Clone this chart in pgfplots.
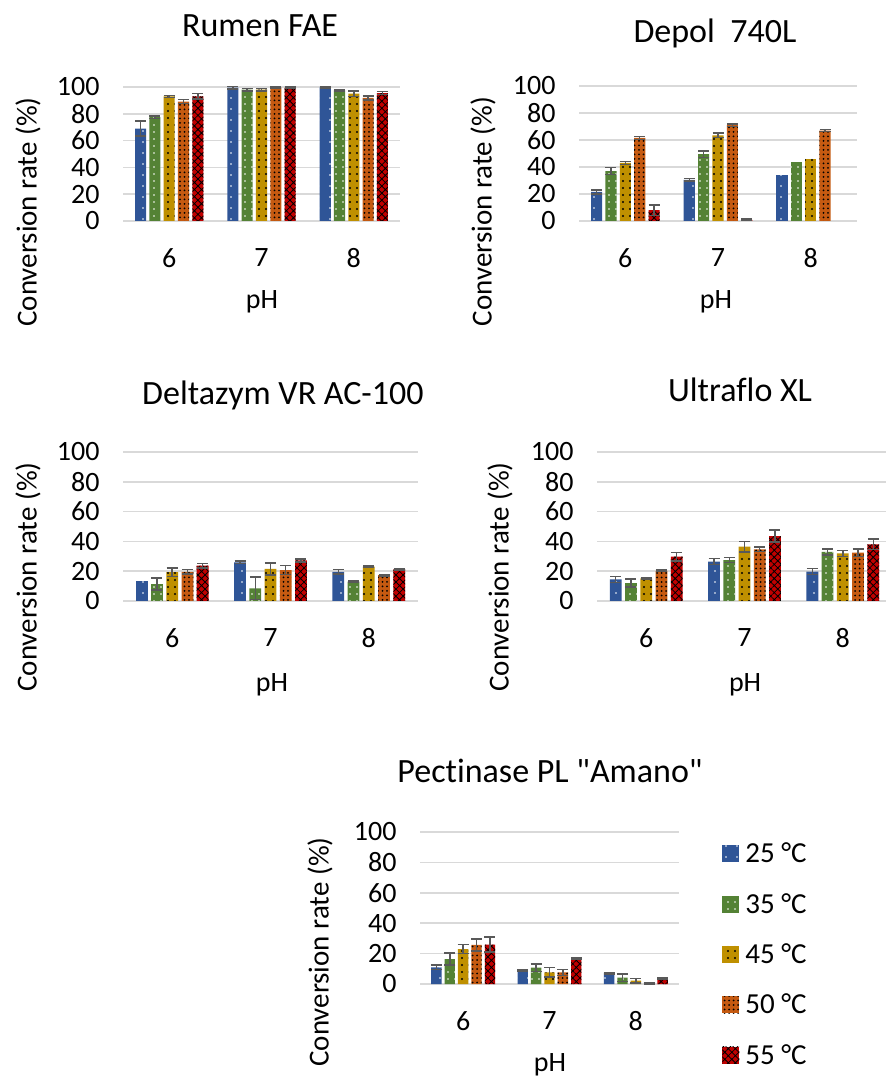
\documentclass[border=0pt]{standalone}
\usepackage{fontspec}
\setmainfont{Carlito}[Ligatures={TeXOff,NoCommon}]
\usepackage{pgfplots}
\pgfplotsset{compat=1.18}
\usetikzlibrary{patterns.meta}

\definecolor{c25}{HTML}{2F5597}
\definecolor{c35}{HTML}{548235}
\definecolor{c45}{HTML}{BF9000}
\definecolor{c50}{HTML}{C55A11}
\definecolor{c55}{HTML}{C00000}
\definecolor{gridc}{HTML}{D9D9D9}
\definecolor{errc}{HTML}{595959}

\pgfplotsset{
  panel/.style={
    scale only axis, anchor=south west, ybar,
    ymin=0, ymax=100, xmin=0.5, xmax=3.5,
    enlarge x limits=false, enlarge y limits=false,
    ytick={0,20,...,100}, xtick={1,2,3}, xticklabels={6,7,8},
    axis line style={draw=none}, tick style={draw=none},
    ymajorgrids, major grid style={gridc, line width=1.5pt},
    bar width=0.12, clip=false,
    font=\fontsize{28}{34}\selectfont,
    /pgf/number format/assume math mode=true,
    yticklabel style={xshift=-20pt},
    xticklabel style={yshift=-20pt},
    title style={font=\fontsize{34}{40}\selectfont, anchor=center},
    xlabel={pH}, ylabel={Conversion rate (\%)},
    xlabel style={anchor=center, font=\fontsize{28}{34}\selectfont},
    ylabel style={anchor=center, font=\fontsize{29}{34}\selectfont},
    legend image code/.code={\fill[##1] (0pt,-8.5pt) rectangle (17pt,8.5pt);},
  },
  eb/.style={error bars/.cd, y dir=both, y explicit,
    error bar style={draw=errc, line width=1.5pt},
    error mark options={draw=errc, line width=1.5pt, mark size=5.5pt, rotate=90}},
  s25/.style={draw=none, fill=c25, bar shift=-0.31,
    postaction={pattern color=white, pattern={Dots[distance=11pt, radius=0.9pt]}}},
  s35/.style={draw=none, fill=c35, bar shift=-0.155,
    postaction={pattern color=white, pattern={Dots[distance=7pt, radius=0.9pt]}}},
  s45/.style={draw=none, fill=c45, bar shift=0,
    postaction={pattern color=black, pattern={Dots[distance=7pt, radius=1.2pt]}}},
  s50/.style={draw=none, fill=c50, bar shift=0.155,
    postaction={pattern color=black, pattern={Dots[distance=4.5pt, radius=1pt]}}},
  s55/.style={draw=none, fill=c55, bar shift=0.31,
    postaction={pattern color=black, pattern={Hatch[distance=5pt, angle=45, line width=0.8pt]}}},
}

\begin{document}
\begin{tikzpicture}
\path[use as bounding box] (0pt,0pt) rectangle (886pt,1077pt);

% Rumen FAE
\begin{axis}[panel, at={(123pt,856pt)}, width=277pt, height=134pt,
  title={Rumen FAE},
  title style={at={(axis description cs:0.495,1.41)}},
  xlabel style={at={(axis description cs:0.502,-0.604)}},
  ylabel style={at={(axis description cs:-0.343,0.067)}}]
\addplot[s25, eb] coordinates {(1,69) +- (0,5.5) (2,99.5) +- (0,1) (3,99.7) +- (0,0.3)};
\addplot[s35, eb] coordinates {(1,77.5) +- (0,1) (2,98) +- (0,1) (3,97.5) +- (0,0.5)};
\addplot[s45, eb] coordinates {(1,93) +- (0,0.8) (2,98) +- (0,1) (3,95) +- (0,2)};
\addplot[s50, eb] coordinates {(1,89) +- (0,1.5) (2,99.7) +- (0,0.5) (3,91.8) +- (0,1.5)};
\addplot[s55, eb] coordinates {(1,93) +- (0,2) (2,99.5) +- (0,0.5) (3,95.5) +- (0,1)};
\end{axis}

% Depol 740L
\begin{axis}[panel, at={(579pt,856pt)}, width=278pt, height=135pt,
  title={Depol~~740L},
  title style={at={(axis description cs:0.489,1.346)}},
  xlabel style={at={(axis description cs:0.493,-0.6)}},
  ylabel style={at={(axis description cs:-0.345,0.07)}}]
\addplot[s25, eb] coordinates {(1,21.5) +- (0,1.5) (2,30.5) +- (0,0.8)};
\addplot[s25, forget plot] coordinates {(3,34)};
\addplot[s35, eb] coordinates {(1,37) +- (0,2.5) (2,49.5) +- (0,2.5)};
\addplot[s35, forget plot] coordinates {(3,44)};
\addplot[s45, eb] coordinates {(1,43) +- (0,1) (2,63.5) +- (0,1.5)};
\addplot[s45, forget plot] coordinates {(3,46)};
\addplot[s50, eb] coordinates {(1,61.5) +- (0,1) (2,71) +- (0,1) (3,67) +- (0,0.8)};
\addplot[s55, eb] coordinates {(1,8) +- (0,4) (2,0.8) +- (0,0.5)};
\end{axis}

% Deltazym VR AC-100
\begin{axis}[panel, at={(123pt,476pt)}, width=295pt, height=149pt,
  title={Deltazym VR AC-100},
  title style={at={(axis description cs:0.542,1.336)}},
  xlabel style={at={(axis description cs:0.505,-0.564)}},
  ylabel style={at={(axis description cs:-0.322,0.161)}}]
\addplot[s25, forget plot] coordinates {(1,13.6)};
\addplot[s25, eb] coordinates {(2,26) +- (0,1) (3,19.5) +- (0,1.5)};
\addplot[s35, eb] coordinates {(1,11.4) +- (0,4) (2,8.5) +- (0,7.5) (3,13) +- (0,0.5)};
\addplot[s45, eb] coordinates {(1,19.3) +- (0,3) (2,21.5) +- (0,4) (3,23) +- (0,0.5)};
\addplot[s50, eb] coordinates {(1,19.5) +- (0,1.5) (2,20.8) +- (0,3) (3,17.4) +- (0,0.5)};
\addplot[s55, eb] coordinates {(1,23.7) +- (0,1.5) (2,27.3) +- (0,1) (3,21.2) +- (0,0.5)};
\end{axis}

% Ultraflo XL
\begin{axis}[panel, at={(597pt,476pt)}, width=295pt, height=149pt,
  title={Ultraflo XL},
  title style={at={(axis description cs:0.485,1.376)}},
  xlabel style={at={(axis description cs:0.502,-0.564)}},
  ylabel style={at={(axis description cs:-0.329,0.161)}}]
\addplot[s25, eb] coordinates {(1,14.5) +- (0,2) (2,26.4) +- (0,2) (3,19.7) +- (0,2)};
\addplot[s35, eb] coordinates {(1,12) +- (0,2.7) (2,27.5) +- (0,1.8) (3,33) +- (0,2)};
\addplot[s45, eb] coordinates {(1,15.2) +- (0,0.5) (2,36.5) +- (0,3.5) (3,32) +- (0,2)};
\addplot[s50, eb] coordinates {(1,20.3) +- (0,0.5) (2,34.7) +- (0,1.5) (3,32.4) +- (0,2.5)};
\addplot[s55, eb] coordinates {(1,29.7) +- (0,3) (2,43.6) +- (0,4) (3,38) +- (0,3.5)};
\end{axis}

% Pectinase PL "Amano"
\begin{axis}[panel, at={(420pt,93pt)}, width=259pt, height=152pt,
  title={Pectinase PL "Amano"},
  title style={at={(axis description cs:0.502,1.362)}},
  xlabel style={at={(axis description cs:0.502,-0.533)}},
  ylabel style={at={(axis description cs:-0.386,0.21)}},
  legend cell align=left,
  legend style={at={(axis description cs:1.155,0.955)}, anchor=north west,
    draw=none, fill=none, row sep=25pt, column sep=4pt,
    font=\fontsize{29}{34}\selectfont}]
\addplot[s25, eb] coordinates {(1,11) +- (0,1.5) (2,8.8) +- (0,0.5) (3,7.2) +- (0,0.5)};
\addplot[s35, eb] coordinates {(1,16.4) +- (0,4) (2,10.7) +- (0,2.5) (3,4.2) +- (0,2.5)};
\addplot[s45, eb] coordinates {(1,23) +- (0,3) (2,7.7) +- (0,3) (3,2.2) +- (0,1.5)};
\addplot[s50, eb] coordinates {(1,25.7) +- (0,4) (2,7.7) +- (0,2) (3,0.3) +- (0,0.3)};
\addplot[s55, eb] coordinates {(1,25.9) +- (0,5) (2,16.9) +- (0,0.5) (3,3.3) +- (0,0.5)};
\legend{25 °C, 35 °C, 45 °C, 50 °C, 55 °C}
\end{axis}
\end{tikzpicture}
\end{document}
